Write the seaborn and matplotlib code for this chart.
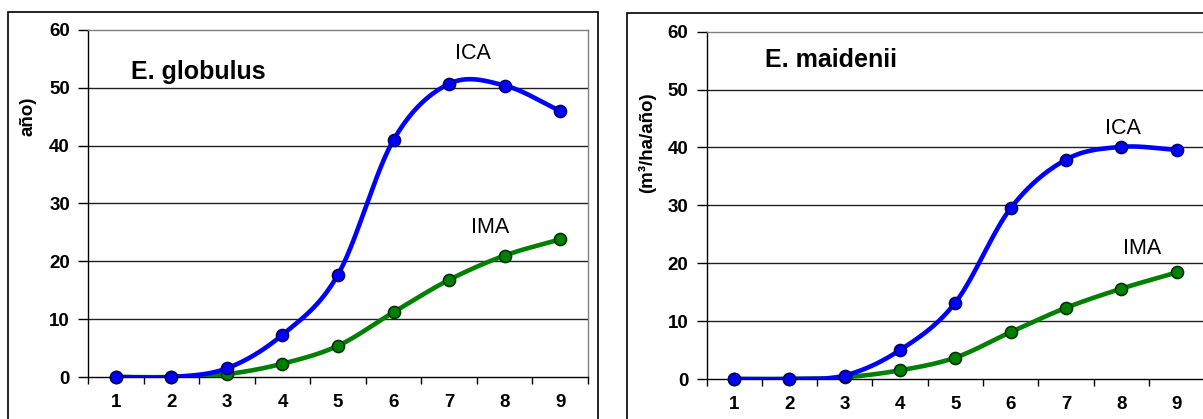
import numpy as np
import matplotlib
matplotlib.use('Agg')
import matplotlib.pyplot as plt
from matplotlib.patches import Rectangle
import seaborn as sns

# data
edad = [1, 2, 3, 4, 5, 6, 7, 8, 9]
glob_ica = [0, 0, 1.5, 7.3, 17.7, 41.0, 50.7, 50.4, 46.0]
glob_ima = [0, 0, 0.5, 2.3, 5.4, 11.2, 16.8, 21.0, 23.8]
maid_ica = [0, 0, 0.6, 5.0, 13.2, 29.5, 37.9, 40.1, 39.6]
maid_ima = [0, 0, 0.3, 1.5, 3.7, 8.1, 12.3, 15.6, 18.4]
y_ticks = [0, 10, 20, 30, 40, 50, 60]

sns.set_style('white')
plt.rcParams['font.family'] = ['Liberation Sans', 'DejaVu Sans']
plt.rcParams['text.color'] = 'black'
plt.rcParams['xtick.color'] = 'black'
plt.rcParams['ytick.color'] = 'black'


# smoothed line like excel (catmull-rom through the points)
def smooth(x, y, n=30):
    x = np.asarray(x, float)
    y = np.asarray(y, float)
    m = np.zeros_like(y)
    m[1:-1] = (y[2:] - y[:-2]) / 2
    m[0] = y[1] - y[0]
    m[-1] = y[-1] - y[-2]
    xs, ys = [], []
    for i in range(len(x) - 1):
        t = np.linspace(0, 1, n, endpoint=False)
        h00 = 2 * t**3 - 3 * t**2 + 1
        h10 = t**3 - 2 * t**2 + t
        h01 = -2 * t**3 + 3 * t**2
        h11 = t**3 - t**2
        ys.append(h00 * y[i] + h10 * m[i] + h01 * y[i + 1] + h11 * m[i + 1])
        xs.append(x[i] + t * (x[i + 1] - x[i]))
    xs.append([x[-1]])
    ys.append([y[-1]])
    return np.concatenate(xs), np.concatenate(ys)


def draw_panel(ax, ica, ima, title, title_xy, ica_xy, ima_xy):
    for vals, col, edge in [(ima, '#008000', '#003300'), (ica, '#0000FF', '#000066')]:
        sx, sy = smooth(edad, vals)
        sns.lineplot(x=sx, y=sy, ax=ax, color=col, lw=3.3, sort=False, zorder=3)
        sns.scatterplot(x=edad, y=vals, ax=ax, color=col, edgecolor=edge,
                        linewidth=1.2, s=75, zorder=4, clip_on=False)

    ax.set_xlim(0.5, 9.5)
    ax.set_ylim(0, 60)
    ax.set_yticks(y_ticks)
    ax.set_yticklabels([str(v) for v in y_ticks], fontsize=13.5, fontweight='bold')
    ax.tick_params(axis='y', direction='out', length=7, width=1, pad=6, left=True)
    # ticks between categories, labels on the categories
    ax.set_xticks(np.arange(0.5, 10, 1))
    ax.set_xticklabels([])
    ax.set_xticks(edad, minor=True)
    ax.set_xticklabels([str(v) for v in edad], minor=True, fontsize=13.5, fontweight='bold')
    ax.tick_params(axis='x', which='major', direction='out', length=5, width=1, bottom=True)
    ax.tick_params(axis='x', which='minor', length=0, pad=12.5)

    for v in y_ticks[1:-1]:
        ax.axhline(v, color='#202020', lw=1, zorder=1)
    ax.spines['left'].set_color('black')
    ax.spines['bottom'].set_color('black')
    ax.spines['top'].set_color('#808080')
    ax.spines['right'].set_color('#808080')
    for s in ax.spines.values():
        s.set_linewidth(1)

    ax.text(title_xy[0], title_xy[1], title, fontsize=18, fontweight='bold', va='center', ha='left')
    ax.text(ica_xy[0], ica_xy[1], 'ICA', fontsize=15.5, va='center', ha='center')
    ax.text(ima_xy[0], ima_xy[1], 'IMA', fontsize=15.5, va='center', ha='center')


W, H = 1203, 419
fig = plt.figure(figsize=(W / 100, H / 100), dpi=100)

ax1 = fig.add_axes([88 / W, 1 - 377 / H, 500 / W, 347 / H])
ax2 = fig.add_axes([706.5 / W, 1 - 379 / H, 497.7 / W, 347.3 / H])

draw_panel(ax1, glob_ica, glob_ima, 'E. globulus', (1.27, 52.8), (7.42, 55.9), (7.73, 25.8))
draw_panel(ax2, maid_ica, maid_ima, 'E. maidenii', (1.56, 55.1), (8.03, 43.3), (8.38, 22.6))

# chart area frames (they run off the bottom of the picture)
fig.patches.append(Rectangle((8 / W, -0.1), 590 / W, 1.1 - 12 / H, transform=fig.transFigure,
                             fill=False, ec='black', lw=1.2))
fig.patches.append(Rectangle((627 / W, -0.1), 600 / W, 1.1 - 13 / H, transform=fig.transFigure,
                             fill=False, ec='black', lw=1.2))

# axis titles
fig.text(28 / W, 1 - 97 / H, 'año)', rotation=90, fontsize=13.5, fontweight='bold',
         ha='center', va='top')
fig.text(647 / W, 1 - 92 / H, '(m³/ha/año)', rotation=90, fontsize=13.5, fontweight='bold',
         ha='center', va='top')

fig.savefig('out.png', dpi=100)
